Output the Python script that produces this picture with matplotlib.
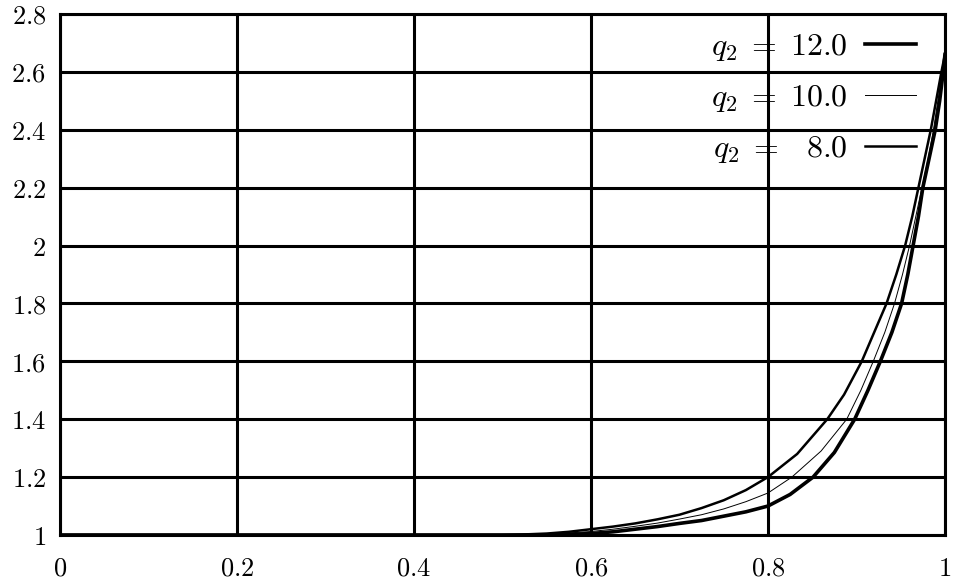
import matplotlib
matplotlib.use('Agg')
import matplotlib.pyplot as plt

plt.rcParams['mathtext.fontset'] = 'cm'

# curve data
x8 = [0.0, 0.5, 0.525, 0.55, 0.575, 0.6, 0.625, 0.65, 0.675, 0.7, 0.725, 0.75, 0.775, 0.8,
      0.833, 0.867, 0.886, 0.906, 0.92, 0.934, 0.945, 0.955, 0.963, 0.970, 0.977, 0.984, 0.99, 0.996, 1.0]
y8 = [1.0, 1.0, 1.002, 1.005, 1.011, 1.02, 1.029, 1.04, 1.054, 1.07, 1.093, 1.12, 1.155, 1.2,
      1.28, 1.4, 1.485, 1.6, 1.7, 1.8, 1.9, 2.0, 2.1, 2.2, 2.3, 2.4, 2.5, 2.6, 2.66]

x10 = [0.0, 0.52, 0.55, 0.575, 0.6, 0.625, 0.65, 0.675, 0.7, 0.725, 0.75, 0.775, 0.8,
       0.827, 0.86, 0.889, 0.905, 0.919, 0.932, 0.943, 0.952, 0.960, 0.967, 0.974, 0.981, 0.987, 0.992, 0.997, 1.0]
y10 = [1.0, 1.0, 1.003, 1.007, 1.012, 1.02, 1.03, 1.041, 1.055, 1.07, 1.09, 1.115, 1.145,
       1.2, 1.29, 1.4, 1.5, 1.6, 1.7, 1.8, 1.9, 2.0, 2.1, 2.2, 2.3, 2.4, 2.5, 2.6, 2.66]

x12 = [0.0, 0.55, 0.575, 0.6, 0.625, 0.65, 0.675, 0.7, 0.725, 0.75, 0.775, 0.8, 0.825,
       0.851, 0.875, 0.898, 0.913, 0.927, 0.94, 0.951, 0.958, 0.964, 0.970, 0.975, 0.982, 0.989, 0.994, 0.998, 1.0]
y12 = [1.0, 1.0, 1.002, 1.005, 1.011, 1.02, 1.029, 1.04, 1.05, 1.065, 1.08, 1.10, 1.14,
       1.2, 1.285, 1.4, 1.5, 1.6, 1.7, 1.8, 1.9, 2.0, 2.1, 2.2, 2.3, 2.4, 2.5, 2.6, 2.66]

xticks = [0, 0.2, 0.4, 0.6, 0.8, 1]
xlabels = ['0', '0.2', '0.4', '0.6', '0.8', '1']
yticks = [1, 1.2, 1.4, 1.6, 1.8, 2, 2.2, 2.4, 2.6, 2.8]
ylabels = ['1', '1.2', '1.4', '1.6', '1.8', '2', '2.2', '2.4', '2.6', '2.8']

fig = plt.figure(figsize=(9.55, 5.81), dpi=100)
ax = fig.add_axes([0.0628, 0.0792, 0.9267, 0.8968])

ax.plot(x12, y12, color='black', lw=2.6, label=r'$q_2\;=\;12.0$')
ax.plot(x10, y10, color='black', lw=0.7, label=r'$q_2\;=\;10.0$')
ax.plot(x8, y8, color='black', lw=1.8, label=r'$q_2\;=\enspace\;8.0$')

ax.set_xlim(0, 1)
ax.set_ylim(1, 2.8)
ax.set_xticks(xticks)
ax.set_xticklabels(['$' + s + '$' for s in xlabels])
ax.set_yticks(yticks)
ax.set_yticklabels(['$' + s + '$' for s in ylabels])
ax.tick_params(length=0, labelsize=19)
ax.tick_params(axis='y', pad=10)
ax.tick_params(axis='x', pad=15)
ax.grid(True, color='black', lw=2.2)
for s in ax.spines.values():
    s.set_linewidth(2.2)

ax.legend(loc='upper right', bbox_to_anchor=(1.0, 1.023), frameon=False,
          markerfirst=False, fontsize=23, handlelength=1.6, handletextpad=0.55,
          labelspacing=0.6, borderaxespad=0.5)

fig.savefig('out.png', dpi=100)
